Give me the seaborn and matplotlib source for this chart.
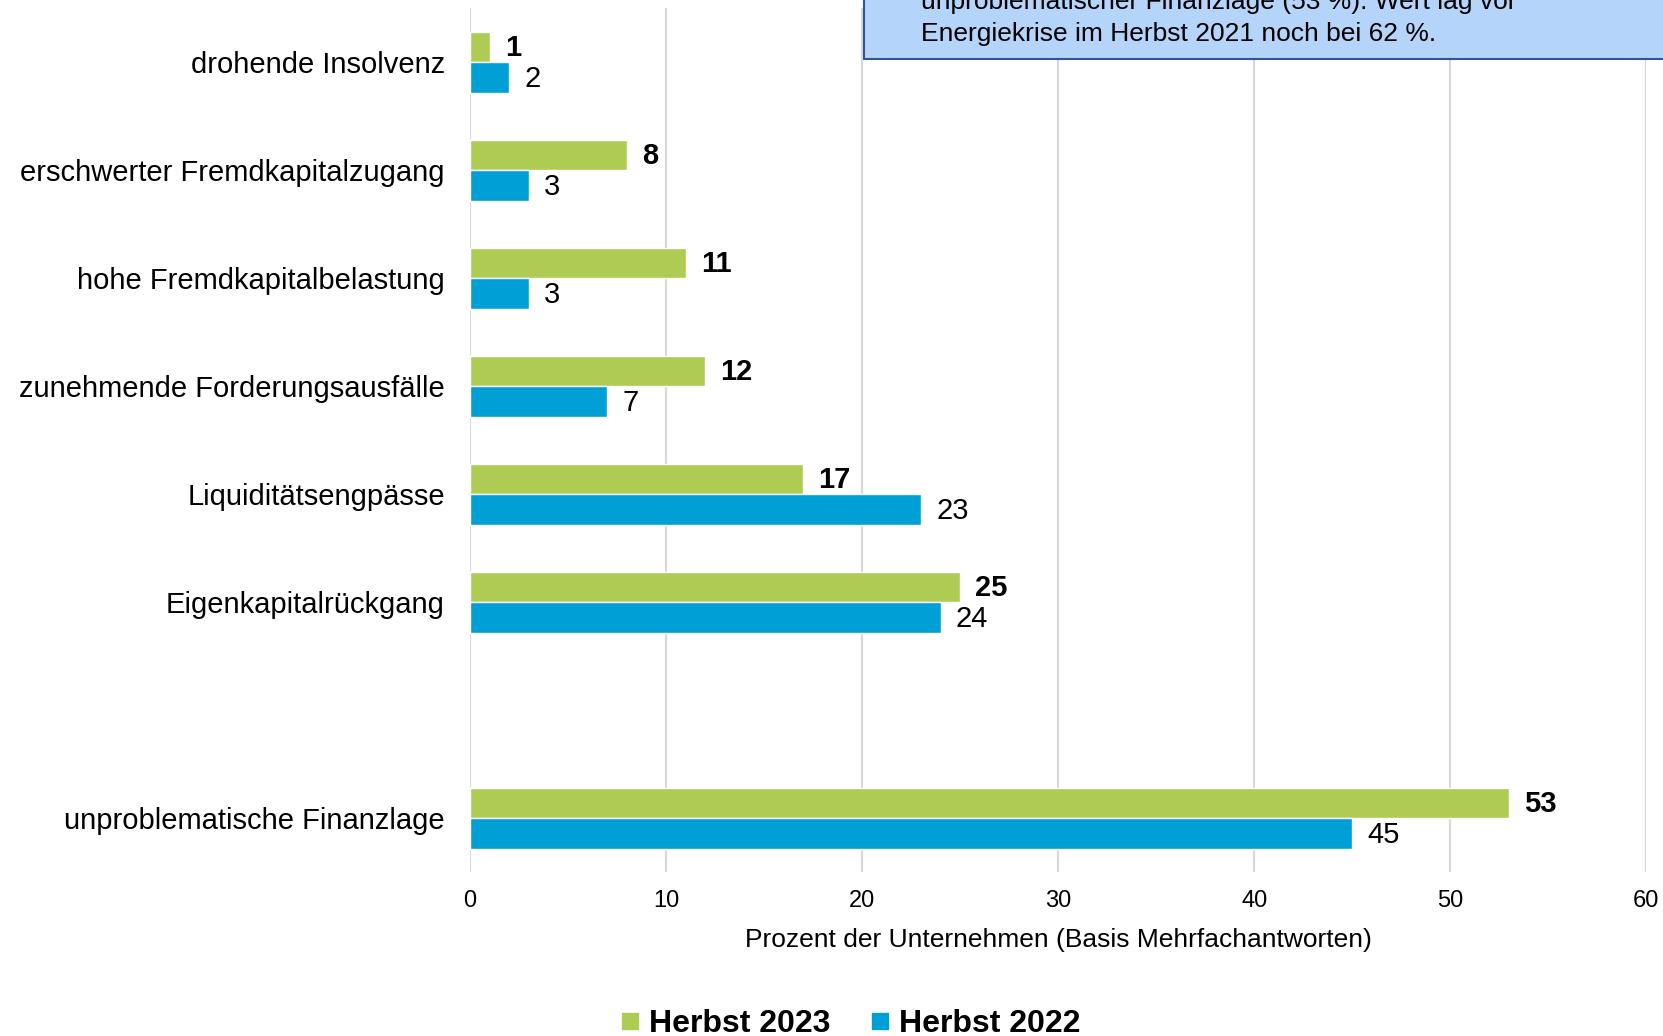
import matplotlib
matplotlib.use("Agg")
import matplotlib.pyplot as plt
import seaborn as sns
import pandas as pd
import numpy as np
from matplotlib.patches import Rectangle
from matplotlib.lines import Line2D

categories = ["drohende Insolvenz", "erschwerter Fremdkapitalzugang", "hohe Fremdkapitalbelastung",
              "zunehmende Forderungsausfälle", "Liquiditätsengpässe", "Eigenkapitalrückgang",
              " ", "unproblematische Finanzlage"]
herbst_2023 = [1, 8, 11, 12, 17, 25, np.nan, 53]
herbst_2022 = [2, 3, 3, 7, 23, 24, np.nan, 45]
series_names = ["Herbst 2023", "Herbst 2022"]
x_ticks = [0, 10, 20, 30, 40, 50, 60]
x_label = "Prozent der Unternehmen (Basis Mehrfachantworten)"
box_lines = ["unproblematischer Finanzlage (53 %). Wert lag vor",
             "Energiekrise im Herbst 2021 noch bei 62 %."]

GREEN = "#AECB53"
BLUE = "#009FD6"

df = pd.DataFrame({
    "Kategorie": categories * 2,
    "Wert": herbst_2023 + herbst_2022,
    "Serie": [series_names[0]] * len(categories) + [series_names[1]] * len(categories),
})

sns.set_theme(style="white")
plt.rcParams["font.family"] = ["Liberation Sans", "DejaVu Sans"]
plt.rcParams["text.color"] = "black"
plt.rcParams["axes.labelcolor"] = "black"
plt.rcParams["xtick.color"] = "black"
plt.rcParams["ytick.color"] = "black"

fig = plt.figure(figsize=(16.63, 10.36), dpi=100)
ax = fig.add_axes([0.2826, 0.158, 0.7074, 0.834])

sns.barplot(data=df, y="Kategorie", x="Wert", hue="Serie", order=categories,
            hue_order=series_names, palette=[GREEN, BLUE], orient="h",
            width=0.57, ax=ax, legend=False, saturation=1)

ax.set_xlim(0, 60)
ax.set_ylim(7.5, -0.5)
ax.set_xticks(x_ticks)
ax.set_xticklabels([str(t) for t in x_ticks], fontsize=17)
ax.tick_params(axis="x", length=0, pad=13)
ax.tick_params(axis="y", length=0, pad=18, labelsize=21)
ax.set_ylabel("")
ax.set_xlabel(x_label, fontsize=19, labelpad=11)
for s in ax.spines.values():
    s.set_visible(False)
ax.grid(axis="x", color="#D9D9D9", linewidth=1.6)
ax.set_axisbelow(True)

# data labels
for i, cont in enumerate(ax.containers):
    for bar in cont:
        v = bar.get_width()
        if not np.isfinite(v) or v == 0:
            continue
        yc = bar.get_y() + bar.get_height() / 2
        ax.annotate(f"{v:g}", xy=(v, yc), xytext=(11, -1), textcoords="offset points",
                    ha="left", va="center", fontsize=21,
                    fontweight="bold" if i == 0 else "normal", color="black")

# annotation box (partially cut off at top)
box = Rectangle((864 / 1663, 1 - 59 / 1036), 1 - 864 / 1663 + 0.01, 0.2,
                transform=fig.transFigure, facecolor="#B4D4FA", edgecolor="#2F5597",
                linewidth=1.5, zorder=5)
fig.add_artist(box)
fig.text(921 / 1663, 1 - 2 / 1036, box_lines[0], fontsize=19, va="center", ha="left", zorder=6)
fig.text(921 / 1663, 1 - 34 / 1036, box_lines[1], fontsize=19, va="center", ha="left", zorder=6)

# legend
handles = [Line2D([], [], marker="s", linestyle="", markersize=12, color=c) for c in [GREEN, BLUE]]
fig.legend(handles, series_names, loc="center", bbox_to_anchor=(0.511, 1 - 1024 / 1036),
           ncol=2, frameon=False, prop={"weight": "bold", "size": 23},
           handlelength=0.7, handletextpad=0.25, columnspacing=1.2)

fig.savefig("out.png", dpi=100)
